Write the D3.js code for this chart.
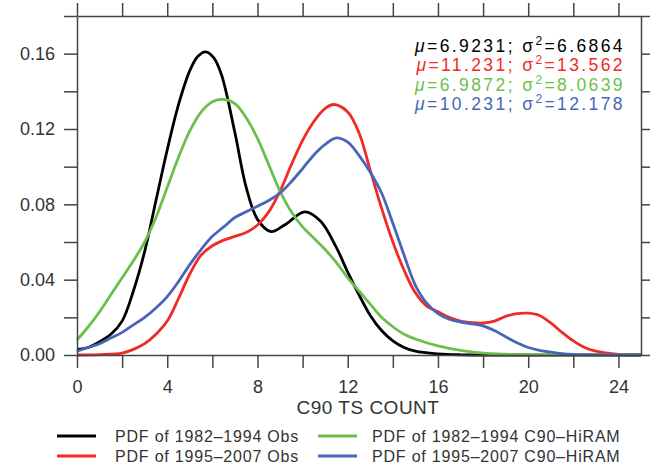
<!DOCTYPE html>
<html>
<head>
<meta charset="utf-8">
<script src="https://cdn.jsdelivr.net/npm/d3@7.9.0/dist/d3.min.js"></script>
<style>
  body { margin: 0; background: #fff; }
  svg { display: block; font-family: 'Liberation Sans', Arial, sans-serif; }
</style>
</head>
<body>
<svg id="chart" width="650" height="466"></svg>
<script>
// PDF curves, [count, density]
const obs8294 = [[0,0.003],[0.5,0.004],[1,0.007],[1.5,0.011],[2,0.018],[2.5,0.034],[3,0.055],[3.5,0.082],[4,0.109],[4.5,0.133],[5,0.151],[5.35,0.1585],[5.7,0.161],[6.05,0.158],[6.4,0.149],[7,0.118],[7.5,0.089],[8,0.072],[8.6,0.0655],[9.2,0.069],[10.1,0.076],[10.8,0.071],[11.5,0.057],[12,0.044],[12.5,0.032],[13,0.021],[13.5,0.013],[14,0.0075],[14.5,0.004],[15,0.002],[16,0.0006],[17,0.0001],[18,0],[25,0]];
const obs9507 = [[0,0],[1,0.0002],[2,0.001],[2.5,0.003],[3,0.006],[3.5,0.011],[4,0.018],[4.5,0.030],[5,0.043],[5.5,0.053],[6,0.058],[6.5,0.061],[7,0.063],[7.5,0.065],[8,0.069],[8.5,0.076],[9,0.087],[9.5,0.101],[10,0.114],[10.5,0.124],[11,0.131],[11.4,0.133],[12,0.129],[12.5,0.118],[13,0.098],[13.5,0.078],[14,0.060],[14.5,0.045],[15,0.033],[15.5,0.026],[16,0.023],[16.5,0.020],[17,0.018],[17.5,0.0172],[18,0.017],[18.5,0.018],[19,0.0205],[19.5,0.022],[20,0.0222],[20.5,0.021],[21,0.017],[21.5,0.012],[22,0.0075],[22.5,0.004],[23,0.002],[23.5,0.001],[24,0.0003],[25,0]];
const hiram8294 = [[0,0.008],[0.5,0.015],[1,0.023],[1.5,0.032],[2,0.041],[2.5,0.050],[3,0.060],[3.5,0.073],[4,0.089],[4.5,0.105],[5,0.119],[5.5,0.129],[6,0.1345],[6.5,0.1357],[7,0.1335],[7.5,0.126],[8,0.115],[8.5,0.101],[9,0.087],[9.5,0.076],[10,0.068],[10.5,0.062],[11,0.056],[11.5,0.049],[12,0.041],[12.5,0.034],[13,0.027],[13.5,0.020],[14,0.015],[14.5,0.011],[15,0.0085],[16,0.0048],[17,0.0024],[18,0.001],[19,0.0004],[20,0.0001],[21,0],[25,0]];
const hiram9507 = [[0,0.002],[0.5,0.004],[1,0.006],[1.5,0.009],[2,0.012],[2.5,0.016],[3,0.020],[3.5,0.025],[4,0.031],[4.5,0.039],[5,0.048],[5.5,0.056],[6,0.063],[6.5,0.068],[7,0.073],[7.5,0.076],[8,0.079],[8.5,0.082],[9,0.086],[9.5,0.092],[10,0.099],[10.5,0.1062],[11,0.1118],[11.5,0.1153],[12,0.113],[12.5,0.106],[13,0.097],[13.5,0.086],[14,0.070],[14.5,0.053],[15,0.037],[15.5,0.0275],[16,0.022],[16.5,0.019],[17,0.0175],[17.5,0.0165],[18,0.0155],[18.5,0.013],[19,0.0097],[19.5,0.0065],[20,0.004],[20.5,0.0025],[21,0.0015],[21.5,0.0007],[22,0.0003],[23,0.0001],[24,0],[25,0]];

const labels = ['PDF of 1982\u20131994 Obs', 'PDF of 1995\u20132007 Obs',
                'PDF of 1982\u20131994 C90\u2013HiRAM', 'PDF of 1995\u20132007 C90\u2013HiRAM'];
const colors = ['#000000', '#ef2b25', '#6cbf4c', '#4866b8'];
const means = ['6.9231', '11.231', '6.9872', '10.231'];
const variances = ['6.6864', '13.562', '8.0639', '12.178'];

const xTicks = [0,2,4,6,8,10,12,14,16,18,20,22,24];
const yTicks = [0,0.02,0.04,0.06,0.08,0.10,0.12,0.14,0.16,0.18];

const curves = [obs8294, obs9507, hiram8294, hiram9507];

const width = 650, height = 466;
const margin = { top: 16, right: 9, bottom: 111, left: 77 };

const svg = d3.select('#chart');

const x = d3.scaleLinear().domain([0, 25]).range([margin.left, width - margin.right]);
const y = d3.scaleLinear().domain([0, 0.18]).range([height - margin.bottom, margin.top]);

// curves first, frame on top
const line = d3.line()
  .x(d => x(d[0]))
  .y(d => y(d[1]))
  .curve(d3.curveCatmullRom.alpha(0.5));

svg.append('g')
  .selectAll('path')
  .data(curves)
  .join('path')
  .attr('d', line)
  .attr('fill', 'none')
  .attr('stroke', (d, i) => colors[i])
  .attr('stroke-width', 2.8)
  .attr('stroke-linejoin', 'round');

function styleAxis(g) {
  g.selectAll('.domain').attr('stroke', '#444').attr('stroke-width', 1.5);
  g.selectAll('.tick line').attr('stroke', '#444').attr('stroke-width', 1.5);
  g.selectAll('.tick text').attr('fill', '#333').style('font-size', '18px');
}

svg.append('g')
  .attr('transform', `translate(0,${y(0)})`)
  .call(d3.axisBottom(x).tickValues(xTicks).tickSize(13).tickSizeOuter(0).tickPadding(12)
    .tickFormat(d => d % 4 === 0 ? d : ''))
  .call(styleAxis);

svg.append('g')
  .attr('transform', `translate(0,${y(0.18)})`)
  .call(d3.axisTop(x).tickValues(xTicks).tickSize(13).tickSizeOuter(0).tickFormat(''))
  .call(styleAxis);

svg.append('g')
  .attr('transform', `translate(${x(0)},0)`)
  .call(d3.axisLeft(y).tickValues(yTicks).tickSize(13).tickSizeOuter(0).tickPadding(9)
    .tickFormat(d => Math.round(d * 100) % 4 === 0 ? d.toFixed(2) : ''))
  .call(styleAxis);

svg.append('g')
  .attr('transform', `translate(${x(25)},0)`)
  .call(d3.axisRight(y).tickValues(yTicks).tickSize(13).tickSizeOuter(0).tickFormat(''))
  .call(styleAxis);

svg.append('text')
  .attr('x', 368)
  .attr('y', 414)
  .attr('text-anchor', 'middle')
  .attr('fill', '#333')
  .style('font-size', '19px')
  .style('letter-spacing', '0.5px')
  .text('C90 TS COUNT');

// mean / variance annotation
const stats = svg.append('g')
  .attr('text-anchor', 'end')
  .style('font-size', '17.5px')
  .style('letter-spacing', '2.4px');

[0, 1, 2, 3].forEach(i => {
  const t = stats.append('text')
    .attr('x', 625)
    .attr('y', 52 + i * 19.3)
    .attr('fill', colors[i]);
  t.append('tspan').style('font-style', 'italic').text('\u03bc');
  t.append('tspan').text('=' + means[i] + '; \u03c3');
  t.append('tspan').attr('dy', -7).style('font-size', '12px').text('2');
  t.append('tspan').attr('dy', 7).text('=' + variances[i]);
});

// legend, two columns
const legendPos = [[57, 436], [57, 456], [318, 436], [318, 456]];
const legend = svg.append('g')
  .selectAll('g')
  .data(labels)
  .join('g')
  .attr('transform', (d, i) => `translate(${legendPos[i][0]},${legendPos[i][1]})`);

legend.append('line')
  .attr('x1', 0).attr('x2', 39)
  .attr('stroke', (d, i) => colors[i])
  .attr('stroke-width', 2.8);

legend.append('text')
  .attr('x', (d, i) => i < 2 ? 58 : 54)
  .attr('y', 6)
  .attr('fill', '#333')
  .style('font-size', '16px')
  .style('letter-spacing', '0.8px')
  .text(d => d);
</script>
</body>
</html>
